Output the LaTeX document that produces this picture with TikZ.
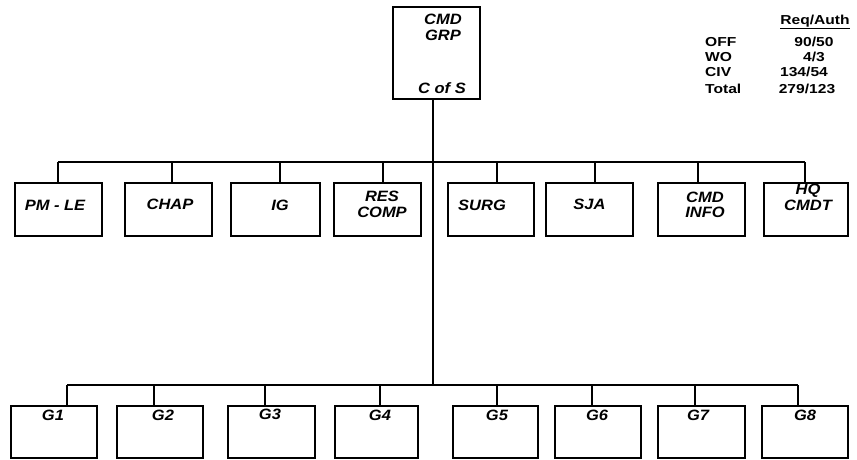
\documentclass[tikz,border=0pt]{standalone}
\usepackage{fontspec}
\setmainfont{Liberation Sans}
\newfontfamily\boxfont[FakeStretch=1.1]{Liberation Sans}
\newfontfamily\tabfont[FakeStretch=1.2]{Liberation Sans}
\begin{document}
\begin{tikzpicture}[x=1pt,y=-1pt,
  orgbox/.style={draw=black, line width=1.5pt, inner sep=0pt, minimum height=53pt},
  lowbox/.style={draw=black, line width=1.5pt, inner sep=0pt, minimum height=52pt},
  lbl/.style={font=\boxfont\bfseries\itshape\fontsize{15}{15.5}\selectfont, align=center, inner sep=0pt},
  tab/.style={font=\tabfont\bfseries\fontsize{13}{14}\selectfont, inner sep=0pt},
  conn/.style={line width=1.3pt},
  trunk/.style={line width=2pt}]
\useasboundingbox (0,0) rectangle (857,460);

% top box
\node[draw=black, line width=1.5pt, inner sep=0pt, minimum width=87pt, minimum height=92pt] (cmd) at (436.5,53) {};
\node[lbl] (cmdt) at (443,27.5) {CMD\\GRP};
\node[lbl] (cos) at (442,88) {C of S};

% staffing table
\node[tab] (hdr) at (815,22) {\underline{Req/Auth}};
\node[tab, anchor=west] (off) at (705,42) {OFF};
\node[tab, anchor=west] (wo) at (705,57) {WO};
\node[tab, anchor=west] (civ) at (705,72) {CIV};
\node[tab, anchor=west] (tot) at (705,89) {Total};
\node[tab] (voff) at (814,42) {90/50};
\node[tab] (vwo) at (814,57) {4/3};
\node[tab] (vciv) at (804,72) {134/54};
\node[tab] (vtot) at (807,89) {279/123};

% middle row
\node[orgbox, minimum width=87pt, label={[lbl,xshift=-3.5pt,yshift=4.5pt]center:PM - LE}] (pm) at (58.5,209.5) {};
\node[orgbox, minimum width=87pt, label={[lbl,xshift=1.5pt,yshift=5pt]center:CHAP}] (chap) at (168.5,209.5) {};
\node[orgbox, minimum width=89pt, label={[lbl,xshift=4.5pt,yshift=4.5pt]center:IG}] (ig) at (275.5,209.5) {};
\node[orgbox, minimum width=87pt, label={[lbl,xshift=4.5pt,yshift=5pt]center:RES\\COMP}] (res) at (377.5,209.5) {};
\node[orgbox, minimum width=86pt, label={[lbl,xshift=-9pt,yshift=4.5pt]center:SURG}] (surg) at (491,209.5) {};
\node[orgbox, minimum width=87pt, label={[lbl,xshift=0pt,yshift=5pt]center:SJA}] (sja) at (589.5,209.5) {};
\node[orgbox, minimum width=87pt, label={[lbl,xshift=3.5pt,yshift=4.5pt]center:CMD\\INFO}] (info) at (701.5,209.5) {};
\node[orgbox, minimum width=84pt, label={[lbl,xshift=2pt,yshift=12pt]center:HQ\\CMDT}] (hq) at (806,209.5) {};

% bottom row
\node[lowbox, minimum width=86pt, label={[lbl,xshift=-1pt,yshift=17pt]center:G1}] (g1) at (54,432) {};
\node[lowbox, minimum width=86pt, label={[lbl,xshift=3pt,yshift=17pt]center:G2}] (g2) at (160,432) {};
\node[lowbox, minimum width=87pt, label={[lbl,xshift=-1.5pt,yshift=18pt]center:G3}] (g3) at (271.5,432) {};
\node[lowbox, minimum width=83pt, label={[lbl,xshift=3.5pt,yshift=17pt]center:G4}] (g4) at (376.5,432) {};
\node[lowbox, minimum width=85pt, label={[lbl,xshift=1.5pt,yshift=17pt]center:G5}] (g5) at (495.5,432) {};
\node[lowbox, minimum width=86pt, label={[lbl,xshift=-1pt,yshift=17pt]center:G6}] (g6) at (598,432) {};
\node[lowbox, minimum width=87pt, label={[lbl,xshift=-3.5pt,yshift=17pt]center:G7}] (g7) at (701.5,432) {};
\node[lowbox, minimum width=86pt, label={[lbl,xshift=0pt,yshift=17pt]center:G8}] (g8) at (805,432) {};

% bus coordinates
\coordinate (mL) at (58,162);
\coordinate (mR) at (805,162);
\coordinate (bL) at (67,385);
\coordinate (bR) at (798,385);
\coordinate (tb) at (433,385);

% trunk
\draw[trunk] ([xshift=-3.5pt]cmd.south) -- (tb);

% buses
\draw[conn] (mL) -- (mR);
\draw[conn] (bL) -- (bR);

% middle drops
\draw[conn] ([xshift=-0.5pt]pm.north) -- ([xshift=-0.5pt]pm.north |- mL);
\draw[conn] ([xshift=3.5pt]chap.north) -- ([xshift=3.5pt]chap.north |- mL);
\draw[conn] ([xshift=4.5pt]ig.north) -- ([xshift=4.5pt]ig.north |- mL);
\draw[conn] ([xshift=5.5pt]res.north) -- ([xshift=5.5pt]res.north |- mL);
\draw[conn] ([xshift=6pt]surg.north) -- ([xshift=6pt]surg.north |- mL);
\draw[conn] ([xshift=5.5pt]sja.north) -- ([xshift=5.5pt]sja.north |- mL);
\draw[conn] ([xshift=-3.5pt]info.north) -- ([xshift=-3.5pt]info.north |- mL);
\draw[conn] ([xshift=-1pt]hq.north) -- ([xshift=-1pt]hq.north |- mL);

% bottom drops
\draw[conn] ([xshift=13pt]g1.north) -- ([xshift=13pt]g1.north |- bL);
\draw[conn] ([xshift=-6pt]g2.north) -- ([xshift=-6pt]g2.north |- bL);
\draw[conn] ([xshift=-6.5pt]g3.north) -- ([xshift=-6.5pt]g3.north |- bL);
\draw[conn] ([xshift=3.5pt]g4.north) -- ([xshift=3.5pt]g4.north |- bL);
\draw[conn] ([xshift=1.5pt]g5.north) -- ([xshift=1.5pt]g5.north |- bL);
\draw[conn] ([xshift=-6pt]g6.north) -- ([xshift=-6pt]g6.north |- bL);
\draw[conn] ([xshift=-6.5pt]g7.north) -- ([xshift=-6.5pt]g7.north |- bL);
\draw[conn] ([xshift=-7pt]g8.north) -- ([xshift=-7pt]g8.north |- bL);
\end{tikzpicture}
\end{document}
